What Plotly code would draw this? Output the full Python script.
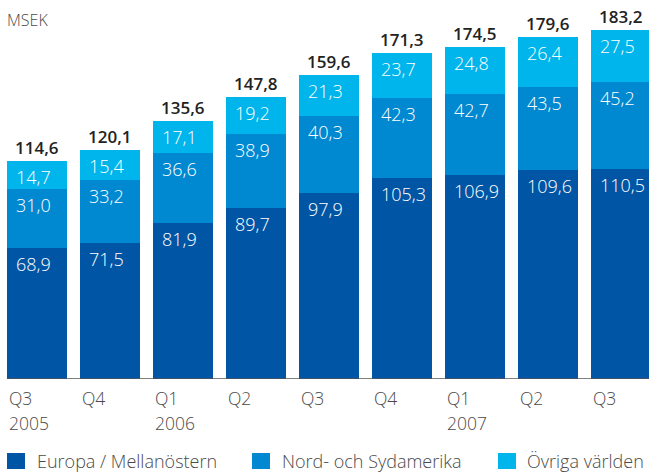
import plotly.graph_objects as go

quarters = ["Q3", "Q4", "Q1", "Q2", "Q3", "Q4", "Q1", "Q2", "Q3"]
years = ["2005", "", "2006", "", "", "", "2007", "", ""]
europa = [68.9, 71.5, 81.9, 89.7, 97.9, 105.3, 106.9, 109.6, 110.5]
amerika = [31.0, 33.2, 36.6, 38.9, 40.3, 42.3, 42.7, 43.5, 45.2]
ovriga = [14.7, 15.4, 17.1, 19.2, 21.3, 23.7, 24.8, 26.4, 27.5]
totals = [114.6, 120.1, 135.6, 147.8, 159.6, 171.3, 174.5, 179.6, 183.2]
series_names = ["Europa / Mellanöstern", "Nord- och Sydamerika", "Övriga världen"]
colors = ["#0055A5", "#0089D0", "#00B5EB"]

W, H = 649, 475
BOT = 96
PH = H - BOT
PX_PER_CAT = 73.0
X0PX = 37.0
BARW = 60 / PX_PER_CAT
YMAX = PH / 1.905

FONT = "Open Sans"
GRAY = "#4a4a4a"

def fmt(v):
    return f"{v:.1f}".replace(".", ",")

x = list(range(len(quarters)))
fig = go.Figure()
for name, vals, c in zip(series_names, [europa, amerika, ovriga], colors):
    fig.add_trace(go.Bar(x=x, y=vals, name=name, marker=dict(color=c, line=dict(width=0)),
                         width=BARW, showlegend=False, hoverinfo="skip"))

ann = []
for i in range(len(x)):
    base = 0
    for vals in [europa, amerika, ovriga]:
        top = base + vals[i]
        ann.append(dict(x=i - BARW / 2 + 7 / PX_PER_CAT, y=top, xref="x", yref="y",
                        text=fmt(vals[i]), showarrow=False, xanchor="left", yanchor="middle",
                        yshift=-16, font=dict(family=FONT, size=18, color="white", weight=300)))
        base = top
    ann.append(dict(x=i, y=totals[i], xref="x", yref="y", text=fmt(totals[i]),
                    showarrow=False, xanchor="center", yanchor="bottom", yshift=0,
                    font=dict(family=FONT, size=17, color="#222222", weight=600)))
    ann.append(dict(x=i - BARW / 2, y=0, xref="x", yref="y", text=quarters[i],
                    showarrow=False, xanchor="left", yanchor="middle", yshift=-19, xshift=0,
                    font=dict(family=FONT, size=17.5, color=GRAY, weight=300)))
    if years[i]:
        ann.append(dict(x=i - BARW / 2, y=0, xref="x", yref="y", text=years[i],
                        showarrow=False, xanchor="left", yanchor="middle", yshift=-44, xshift=0,
                        font=dict(family=FONT, size=17.5, color=GRAY, weight=300)))

ann.append(dict(x=5 / W, y=(PH - 20) / PH, xref="paper", yref="paper", text="MSEK",
                showarrow=False, xanchor="left", yanchor="middle",
                font=dict(family=FONT, size=16, color=GRAY, weight=300)))

shapes = [dict(type="line", xref="paper", yref="y", x0=7 / W, x1=1, y0=0, y1=0,
               line=dict(color="#555555", width=1.5))]

leg_sq = [7, 252, 498]
leg_tx = [35, 280, 525]
for sx, tx, name, c in zip(leg_sq, leg_tx, series_names, colors):
    shapes.append(dict(type="rect", xref="paper", yref="paper",
                       x0=sx / W, x1=(sx + 18) / W,
                       y0=(PH - 469) / PH, y1=(PH - 453) / PH,
                       fillcolor=c, line=dict(width=0)))
    ann.append(dict(x=tx / W, y=(PH - 461) / PH, xref="paper", yref="paper", text=name,
                    showarrow=False, xanchor="left", yanchor="middle",
                    font=dict(family=FONT, size=18, color=GRAY, weight=300)))

fig.update_layout(
    width=W, height=H, barmode="stack", bargap=0,
    margin=dict(l=0, r=0, t=0, b=BOT, pad=0),
    paper_bgcolor="white", plot_bgcolor="white",
    xaxis=dict(range=[-X0PX / PX_PER_CAT, (W - X0PX) / PX_PER_CAT], showticklabels=False,
               showgrid=False, zeroline=False, showline=False, ticks=""),
    yaxis=dict(range=[0, YMAX], showticklabels=False, showgrid=False, zeroline=False,
               showline=False, ticks=""),
    annotations=ann, shapes=shapes,
)
fig.write_html("out.html", config={"displayModeBar": False},
               post_script="document.body.style.margin='0';document.body.style.overflow='hidden';")
